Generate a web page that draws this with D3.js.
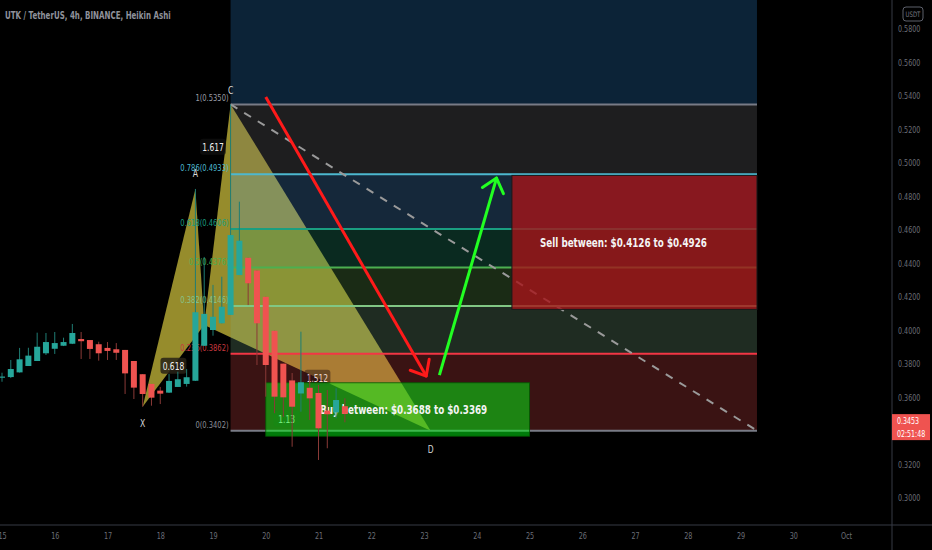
<!DOCTYPE html>
<html><head><meta charset="utf-8">
<script src="https://cdn.jsdelivr.net/npm/d3@7"></script>
<style>
html,body{margin:0;padding:0;background:#000;}
svg{display:block;}
text{font-family:"Liberation Sans Narrow","DejaVu Sans Condensed",sans-serif;}
</style></head><body>
<svg id="chart" width="932" height="550"></svg>
<script>
// ---------------- DATA ----------------
const title = "UTK / TetherUS, 4h, BINANCE, Heikin Ashi";
const candleStart = "2021-09-15T00:00"; // 4h Heikin Ashi candles
const candleOpen  = [0.3718,0.3722,0.3750,0.3788,0.3818,0.3864,0.3891,0.3909,0.3921,0.3949,
                     0.3943,0.3918,0.3896,0.3888,0.3884,0.3818,0.3739,0.3681,0.3641,0.3629,
                     0.3663,0.3681,0.3700,0.3909,0.4003,0.4043,0.4093,0.4331,0.4434,0.4358,
                     0.4201,0.3998,0.3802,0.3702,0.3624,0.3658,0.3627,0.3522,0.3511,0.3548];
const candleClose = [0.3725,0.3770,0.3828,0.3850,0.3903,0.3931,0.3925,0.3931,0.3985,0.3936,
                     0.3890,0.3864,0.3878,0.3867,0.3744,0.3659,0.3621,0.3599,0.3623,0.3699,
                     0.3709,0.3721,0.4109,0.4099,0.4082,0.4142,0.4570,0.4536,0.4282,0.4043,
                     0.3794,0.3605,0.3601,0.3545,0.3691,0.3595,0.3416,0.3500,0.3585,0.3502];
const candleHigh  = [0.3748,0.3824,0.3896,0.3897,0.3987,0.3985,0.3991,0.3957,0.4039,0.3991,
                     0.3943,0.3933,0.3931,0.3925,0.3884,0.3818,0.3739,0.3681,0.3663,0.3740,
                     0.3754,0.3770,0.4845,0.4439,0.4272,0.4321,0.5350,0.4769,0.4434,0.4358,
                     0.4201,0.3998,0.3802,0.3746,0.3993,0.3740,0.3675,0.3645,0.3655,0.3595];
const candleLow   = [0.3694,0.3716,0.3749,0.3788,0.3818,0.3854,0.3860,0.3907,0.3919,0.3830,
                     0.3830,0.3820,0.3824,0.3824,0.3621,0.3591,0.3545,0.3551,0.3561,0.3627,
                     0.3663,0.3665,0.3699,0.3907,0.3969,0.4043,0.4093,0.4331,0.4152,0.3794,
                     0.3605,0.3506,0.3485,0.3306,0.3515,0.3466,0.3227,0.3297,0.3476,0.3452];

const dayTicks  = ["2021-09-15","2021-09-16","2021-09-17","2021-09-18","2021-09-19","2021-09-20",
                   "2021-09-21","2021-09-22","2021-09-23","2021-09-24","2021-09-25","2021-09-26",
                   "2021-09-27","2021-09-28","2021-09-29","2021-09-30","2021-10-01"];
const dayLabels = ["15","16","17","18","19","20","21","22","23","24","25","26","27","28","29","30","Oct"];
const priceTicks = [0.30,0.32,0.34,0.36,0.38,0.40,0.42,0.44,0.46,0.48,0.50,0.52,0.54,0.56,0.58];

// XABCD pattern
const patternNames  = ["X","A","B","C","D"];
const patternShown  = [true, true, false, true, true]; // B is hidden behind candles
const patternTimes  = ["2021-09-17T16:00","2021-09-18T16:00","2021-09-18T20:00","2021-09-19T08:00","2021-09-23T03:00"];
const patternPrices = [0.3545,0.4845,0.4033,0.5350,0.3402];
const patternRatios = ["0.618","1.617","1.512","1.13"]; // on X-B, A-C, B-D, X-D

// Fibonacci retracement (C -> D)
const fibTimes  = ["2021-09-19T08:00","2021-09-29T07:30"];
const fibHigh = 0.5350, fibLow = 0.3402;
const fibLevels = [0, 0.236, 0.382, 0.5, 0.618, 0.786, 1, 1.618];

// Zones
const buyTimes = ["2021-09-20T00:00","2021-09-25T00:00"];
const buyPrices = [0.3688, 0.3369];
const sellTimes = ["2021-09-24T16:00","2021-09-29T07:30"];
const sellPrices = [0.4926, 0.4126];
const buyText = "Buy between: $0.3688 to $0.3369";
const sellText = "Sell between: $0.4126 to $0.4926";

// Arrows
const arrowDownTimes = ["2021-09-20T00:00","2021-09-23T01:00"];
const arrowDownPrices = [0.5394, 0.3728];
const arrowUpTimes = ["2021-09-23T07:00","2021-09-24T09:00"];
const arrowUpPrices = [0.3734, 0.4910];

const lastPrice = 0.3453;
const countdown = "02:51:48";

// ---------------- STYLE ----------------
const fibLineColors = ["#787b86","#f23645","#81c784","#4caf50","#1a9e80","#4db8cf","#787b86"];
const fibFillColors = ["rgb(232,76,76)","rgb(124,176,136)","rgb(104,172,84)","rgb(40,168,128)",
                       "rgb(84,160,232)","rgb(120,120,124)","rgb(48,140,220)"];
const fibFillAlpha = 0.25;
const fibTextColors = ["#8a8d96","#c8383f","#88c48a","#4caf50","#1a9e80","#4db8cf","#9a9da6"];

const W = 932, H = 550, plotRight = 892, plotBottom = 525;
const parse = d3.utcParse("%Y-%m-%dT%H:%M");
const parseD = d3.utcParse("%Y-%m-%d");

function narrow(sel, k) {
  sel.each(function () {
    const L = this.getComputedTextLength();
    d3.select(this).attr("textLength", L * k).attr("lengthAdjust", "spacingAndGlyphs");
  });
  return sel;
}

const x = d3.scaleUtc().domain([parseD("2021-09-15"), parseD("2021-10-01")]).range([2, 846]);
const y = d3.scaleLinear().domain([0.30, 0.58]).range([498, 29]);

const svg = d3.select("#chart");
svg.append("rect").attr("width", W).attr("height", H).attr("fill", "#000");

svg.append("defs").append("clipPath").attr("id","plot")
  .append("rect").attr("x",0).attr("y",0).attr("width",plotRight).attr("height",plotBottom);

const g = svg.append("g").attr("clip-path","url(#plot)");

// ---- pattern triangles ----
const pts = patternTimes.map((t,i) => [x(parse(t)), y(patternPrices[i])]);
const tri = [[0,1,2],[2,3,4]];
tri.forEach(tr => {
  g.append("path").attr("d", d3.line()(tr.map(k => pts[k])) + "Z")
    .attr("fill", "rgb(150,140,44)").attr("stroke", "none");
});

// ---- fib fills ----
const fx0 = x(parse(fibTimes[0])), fx1 = x(parse(fibTimes[1]));
const fibPrice = l => fibLow + l * (fibHigh - fibLow);
for (let i = 0; i < fibLevels.length - 1; i++) {
  const yTop = y(fibPrice(fibLevels[i+1])), yBot = y(fibPrice(fibLevels[i]));
  g.append("rect").attr("x", fx0).attr("width", fx1 - fx0)
    .attr("y", yTop).attr("height", yBot - yTop)
    .attr("fill", fibFillColors[i]).attr("fill-opacity", fibFillAlpha);
}

// ---- fib lines ----
fibLevels.slice(0, 7).forEach((l, i) => {
  g.append("line").attr("x1", fx0).attr("x2", fx1)
    .attr("y1", y(fibPrice(l))).attr("y2", y(fibPrice(l)))
    .attr("stroke", fibLineColors[i]).attr("stroke-width", 2);
});

// ---- dashed trend line ----
g.append("line").attr("x1", fx0).attr("y1", y(fibHigh)).attr("x2", fx1).attr("y2", y(fibLow))
  .attr("stroke", "#9a9a9a").attr("stroke-width", 2).attr("stroke-dasharray", "8,8");

// ---- fib labels ----
fibLevels.slice(0, 7).forEach((l, i) => {
  narrow(g.append("text").attr("x", fx0 - 2).attr("y", y(fibPrice(l)) - 3)
    .attr("text-anchor", "end").attr("font-size", "9.5px").attr("fill", fibTextColors[i])
    .text(`${l}(${fibPrice(l).toFixed(4)})`), 0.79);
});

// ---- ratio labels ----
const ratioPairs = [[0,2],[1,3],[2,4],[0,4]];
const ratioBg = ["rgba(40,34,22,0.85)","rgba(20,20,20,0.6)","rgba(40,20,20,0.5)","rgba(40,30,20,0.5)"];
const ratioFg = ["#f0f0f0","#f0f0f0","#ecd6cc","#e0e0e0"];
ratioPairs.forEach((p, i) => {
  const cx = (pts[p[0]][0] + pts[p[1]][0]) / 2, cy = (pts[p[0]][1] + pts[p[1]][1]) / 2;
  g.append("rect").attr("x", cx - 13).attr("y", cy - 8).attr("width", 26).attr("height", 16)
    .attr("rx", 3).attr("fill", ratioBg[i]);
  narrow(g.append("text").attr("x", cx).attr("y", cy + 4).attr("text-anchor", "middle")
    .attr("font-size", "11px").attr("fill", ratioFg[i]).text(patternRatios[i]), 0.76);
});

// ---- point labels ----
const labelDy = [16, -16, 16, -14, 18];
patternNames.forEach((n, i) => {
  if (!patternShown[i]) return;
  narrow(g.append("text").attr("x", pts[i][0]).attr("y", pts[i][1] + labelDy[i] + 4)
    .attr("text-anchor", "middle").attr("font-size", "10px").attr("fill", "#d8d8d8").text(n), 0.85);
});

// ---- sell box ----
const sx0 = x(parse(sellTimes[0])), sx1 = x(parse(sellTimes[1]));
g.append("rect").attr("x", sx0).attr("y", y(sellPrices[0])).attr("width", sx1 - sx0)
  .attr("height", y(sellPrices[1]) - y(sellPrices[0]))
  .attr("fill", "rgba(165,20,25,0.8)").attr("stroke", "#1a1a1a").attr("stroke-width", 1);
narrow(g.append("text").attr("x", (sx0 + sx1) / 2 - 11).attr("y", (y(sellPrices[0]) + y(sellPrices[1])) / 2 + 5)
  .attr("text-anchor", "middle").attr("font-size", "13px").attr("font-weight", "bold")
  .attr("fill", "#f4f4f4").text(sellText), 0.75);

// ---- buy box ----
const bx0 = x(parse(buyTimes[0])), bx1 = x(parse(buyTimes[1]));
g.append("rect").attr("x", bx0).attr("y", y(buyPrices[0])).attr("width", bx1 - bx0)
  .attr("height", y(buyPrices[1]) - y(buyPrices[0]))
  .attr("fill", "rgba(0,245,20,0.5)").attr("stroke", "rgba(0,90,0,0.8)").attr("stroke-width", 1);
narrow(g.append("text").attr("x", (bx0 + bx1) / 2 + 6).attr("y", (y(buyPrices[0]) + y(buyPrices[1])) / 2 + 5)
  .attr("text-anchor", "middle").attr("font-size", "13px").attr("font-weight", "bold")
  .attr("fill", "#f4f4f4").text(buyText), 0.75);

// ---- candles ----
const candles = candleOpen.map((o, i) => ({
  t: d3.utcHour.offset(parse(candleStart), 4 * i),
  o, c: candleClose[i], h: candleHigh[i], l: candleLow[i]
}));
const cg = g.append("g");
candles.forEach(d => {
  const up = d.c >= d.o;
  const cx = x(d.t);
  cg.append("line").attr("x1", cx).attr("x2", cx).attr("y1", y(d.h)).attr("y2", y(d.l))
    .attr("stroke", up ? "#1f7d74" : "#8a3a37").attr("stroke-width", 1);
  const yt = y(Math.max(d.o, d.c)), yb = y(Math.min(d.o, d.c));
  cg.append("rect").attr("x", cx - 3).attr("width", 6).attr("y", yt).attr("height", Math.max(1, yb - yt))
    .attr("fill", up ? "#26a69a" : "#ef5350");
});

// ---- arrows ----
function arrow(times, prices, color) {
  const p0 = [x(parse(times[0])), y(prices[0])], p1 = [x(parse(times[1])), y(prices[1])];
  g.append("line").attr("x1", p0[0]).attr("y1", p0[1]).attr("x2", p1[0]).attr("y2", p1[1])
    .attr("stroke", color).attr("stroke-width", 3);
  const ang = Math.atan2(p0[1] - p1[1], p0[0] - p1[0]);
  [-0.7, 0.7].forEach(da => {
    const a = ang + da;
    g.append("line").attr("x1", p1[0]).attr("y1", p1[1])
      .attr("x2", p1[0] + 17 * Math.cos(a)).attr("y2", p1[1] + 17 * Math.sin(a))
      .attr("stroke", color).attr("stroke-width", 3).attr("stroke-linecap", "round");
  });
}
arrow(arrowDownTimes, arrowDownPrices, "#ff1a1a");
arrow(arrowUpTimes, arrowUpPrices, "#22ff22");

// ---- title ----
narrow(svg.append("text").attr("x", 5).attr("y", 19).attr("font-size", "10.5px").attr("font-weight", "bold")
  .attr("fill", "#8f929b").text(title), 0.75);

// ---- axes ----
svg.append("line").attr("x1", 0).attr("x2", W).attr("y1", plotBottom).attr("y2", plotBottom)
  .attr("stroke", "#363a45").attr("stroke-width", 1);
svg.append("line").attr("x1", plotRight).attr("x2", plotRight).attr("y1", 0).attr("y2", H)
  .attr("stroke", "#363a45").attr("stroke-width", 1);

const yAxis = d3.axisRight(y).tickValues(priceTicks).tickFormat(d3.format(".4f")).tickSize(0).tickPadding(6);
const ya = svg.append("g").attr("transform", `translate(${plotRight},0)`).call(yAxis);
ya.select(".domain").remove();
narrow(ya.selectAll("text").attr("font-size", "9px").attr("fill", "#6a6d76")
  .attr("font-family", '"Liberation Sans Narrow","DejaVu Sans Condensed",sans-serif'), 0.79);

const xAxis = d3.axisBottom(x).tickValues(dayTicks.map(parseD)).tickFormat((d, i) => dayLabels[i]).tickSize(0).tickPadding(8);
const xa = svg.append("g").attr("transform", `translate(0,${plotBottom})`).call(xAxis);
xa.select(".domain").remove();
narrow(xa.selectAll("text").attr("font-size", "9px").attr("fill", "#6a6d76")
  .attr("font-family", '"Liberation Sans Narrow","DejaVu Sans Condensed",sans-serif'), 0.8);

// USDT badge
svg.append("rect").attr("x", 903).attr("y", 7).attr("width", 20).attr("height", 14).attr("rx", 3)
  .attr("fill", "none").attr("stroke", "#5d606b");
narrow(svg.append("text").attr("x", 913).attr("y", 17).attr("text-anchor", "middle").attr("font-size", "7.5px")
  .attr("fill", "#7a7d86").text("USDT"), 0.8);

// last price tag
const ly = y(lastPrice);
svg.append("rect").attr("x", plotRight).attr("y", ly - 8).attr("width", 38).attr("height", 26)
  .attr("fill", "#ef5350");
narrow(svg.append("text").attr("x", plotRight + 5).attr("y", ly + 2).attr("font-size", "8.5px")
  .attr("fill", "#fff").text(lastPrice.toFixed(4)), 0.82);
narrow(svg.append("text").attr("x", plotRight + 5).attr("y", ly + 15).attr("font-size", "8.5px")
  .attr("fill", "#fff").text(countdown), 0.82);
</script>
</body></html>
